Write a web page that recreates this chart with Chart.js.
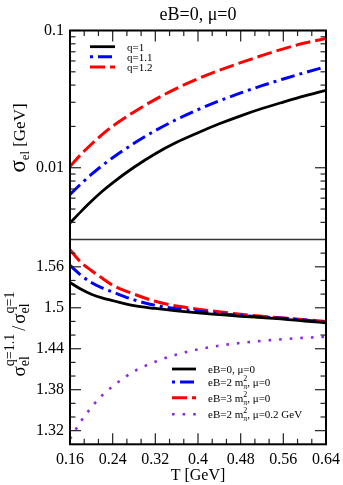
<!DOCTYPE html>
<html>
<head>
<meta charset="utf-8">
<script src="https://cdn.jsdelivr.net/npm/chart.js@4.4.1/dist/chart.umd.min.js"></script>
<style>
  html, body { margin: 0; padding: 0; background: #fff; }
  #wrap { position: relative; width: 343px; height: 485px; }
</style>
</head>
<body>
<div id="wrap"><canvas id="chart" width="343" height="485"></canvas></div>
<script>
const SERIF = "'Liberation Serif', 'DejaVu Serif', serif";

// temperature grid [GeV]
const T = [0.16, 0.18, 0.20, 0.22, 0.24, 0.28, 0.32, 0.36, 0.40, 0.44, 0.48, 0.52, 0.56, 0.60, 0.64];

// top panel: sigma_el [GeV]
const sigmaQ1  = [0.00395, 0.00477, 0.00569, 0.00671, 0.00777, 0.01008, 0.01266, 0.01532, 0.0180, 0.0209, 0.0239, 0.0270, 0.0301, 0.0334, 0.0367];
const sigmaQ11 = [0.00638, 0.0076, 0.00893, 0.01035, 0.01182, 0.01506, 0.01866, 0.02248, 0.02648, 0.0307, 0.03507, 0.03961, 0.04434, 0.04931, 0.0545];
const sigmaQ12 = [0.0102, 0.01245, 0.01483, 0.01741, 0.0201, 0.0255, 0.0315, 0.0379, 0.0445, 0.0513, 0.0583, 0.0657, 0.0735, 0.0810, 0.0876];

// bottom panel: sigma(q=1.1)/sigma(q=1)
const ratioEB0   = [1.537, 1.5275, 1.5198, 1.5145, 1.5105, 1.503, 1.499, 1.4955, 1.4925, 1.490, 1.4875, 1.4855, 1.4835, 1.4805, 1.478];
const ratioEB2   = [1.562, 1.548, 1.537, 1.529, 1.523, 1.5115, 1.5035, 1.4985, 1.495, 1.4915, 1.489, 1.4865, 1.4845, 1.482, 1.479];
const ratioEB3   = [1.585, 1.567, 1.5545, 1.5435, 1.533, 1.520, 1.5095, 1.5025, 1.498, 1.494, 1.4905, 1.4875, 1.485, 1.4825, 1.480];
const ratioEB2Mu = [1.308, 1.333, 1.354, 1.3715, 1.385, 1.4068, 1.421, 1.4315, 1.439, 1.4445, 1.4485, 1.4515, 1.454, 1.456, 1.4576];

// ticks
const xTicks = [0.16, 0.24, 0.32, 0.40, 0.48, 0.56, 0.64];
const yTopTicks = [0.01, 0.1];
const yBotTicks = [1.32, 1.38, 1.44, 1.50, 1.56];

const topLegend = ['q=1', 'q=1.1', 'q=1.2'];

const fmt = v => String(+Number(v).toFixed(3));

// minor tick positions
const xMinor = [];
for (let i = 0; i < xTicks.length - 1; i++) {
    const step = (xTicks[i + 1] - xTicks[i]) / 3;
    xMinor.push(xTicks[i] + step, xTicks[i] + 2 * step);
}
const yTopMinor = [];
for (const dec of [0.001, 0.01]) {
    for (let m = 2; m <= 9; m++) {
        const v = m * dec;
        if (v > 0.003 && v < 0.1) yTopMinor.push(v);
    }
}
const yBotMinor = [1.58];
for (let i = 0; i < yBotTicks.length - 1; i++) {
    const step = (yBotTicks[i + 1] - yBotTicks[i]) / 3;
    yBotMinor.push(yBotTicks[i] + step, yBotTicks[i] + 2 * step);
}

function series(label, ys, axis, color, width, dash, legendOffset) {
    return {
        label,
        data: T.map((t, i) => ({ x: t, y: ys[i] })),
        yAxisID: axis,
        borderColor: color,
        backgroundColor: color,
        borderWidth: width,
        borderDash: dash,
        borderCapStyle: 'butt',
        pointRadius: 0,
        fill: false,
        cubicInterpolationMode: 'monotone',
        legendOffset: legendOffset || 0,
    };
}

const datasets = [
    series('q=1', sigmaQ1, 'yTop', '#000000', 2.8, []),
    series('q=1.1', sigmaQ11, 'yTop', '#0000ff', 3, [14, 5, 3, 5], 19),
    series('q=1.2', sigmaQ12, 'yTop', '#ff0000', 3, [15, 5]),
    series('eB=0, μ=0', ratioEB0, 'yBot', '#000000', 2.8, []),
    series('eB=2', ratioEB2, 'yBot', '#0000ff', 3, [14, 5, 3, 5], 19),
    series('eB=3', ratioEB3, 'yBot', '#ff0000', 3, [15, 5]),
    series('eB=2 mu', ratioEB2Mu, 'yBot', '#8a2be2', 2.6, [2.6, 8]),
];

// rich text helpers (sub/superscripts)
function partWidth(ctx, p) {
    ctx.font = p.s + 'px ' + SERIF;
    return ctx.measureText(p.t).width;
}
function richWidth(ctx, parts) {
    let w = 0;
    for (const p of parts) {
        if (p.stack) w += Math.max(...p.stack.map(q => partWidth(ctx, q)));
        else w += partWidth(ctx, p);
        w += p.gap || 0;
    }
    return w;
}
function drawRich(ctx, parts, x, y) {
    let cx = x;
    const one = (q, px) => {
        ctx.font = q.s + 'px ' + SERIF;
        ctx.fillText(q.t, px, y + (q.dy || 0));
        return ctx.measureText(q.t).width;
    };
    for (const p of parts) {
        if (p.stack) cx += Math.max(...p.stack.map(q => one(q, cx)));
        else cx += one(p, cx);
        cx += p.gap || 0;
    }
}

const mPi = (pre, post) => [
    { t: pre, s: 11 },
    { stack: [{ t: 'π', s: 8, dy: 3 }, { t: '2', s: 8, dy: -5 }] },
    { t: post, s: 11 },
];
const botLegend = [
    [{ t: 'eB=0, μ=0', s: 11 }],
    mPi('eB=2 m', ', μ=0'),
    mPi('eB=3 m', ', μ=0'),
    mPi('eB=2 m', ', μ=0.2 GeV'),
];

const MAJ = 11, MIN = 5.5;

const decorPlugin = {
    id: 'decor',
    afterDatasetsDraw(chart) {
        const { ctx, chartArea: a, scales } = chart;
        const sx = scales.x, yt = scales.yTop, yb = scales.yBot;
        ctx.save();
        const line = (x1, y1, x2, y2) => {
            ctx.beginPath(); ctx.moveTo(x1, y1); ctx.lineTo(x2, y2); ctx.stroke();
        };

        // inward ticks
        ctx.strokeStyle = '#222';
        ctx.lineWidth = 1.2;
        ctx.setLineDash([]);
        const xt = (list, len) => list.forEach(v => {
            const px = sx.getPixelForValue(v);
            line(px, a.top, px, a.top + len);
            line(px, a.bottom, px, a.bottom - len);
        });
        xt(xTicks, MAJ); xt(xMinor, MIN);
        const ytk = (scale, list, len) => list.forEach(v => {
            const py = scale.getPixelForValue(v);
            line(a.left, py, a.left + len, py);
            line(a.right, py, a.right - len, py);
        });
        ytk(yt, yTopTicks, MAJ); ytk(yt, yTopMinor, MIN);
        ytk(yb, yBotTicks, MAJ); ytk(yb, yBotMinor, MIN);

        // panel separator
        ctx.strokeStyle = '#333';
        ctx.lineWidth = 1.3;
        line(a.left, yt.bottom, a.right, yt.bottom);

        // frame
        ctx.strokeStyle = '#000';
        ctx.lineWidth = 2;
        ctx.strokeRect(a.left, a.top, a.right - a.left, a.bottom - a.top);

        // title
        ctx.fillStyle = '#000';
        ctx.textAlign = 'left';
        ctx.textBaseline = 'alphabetic';
        ctx.font = '18px ' + SERIF;
        const title = 'eB=0, μ=0';
        ctx.fillText(title, (a.left + a.right) / 2 - ctx.measureText(title).width / 2, 19.5);

        // y-axis titles
        const yTitle = (parts, x, y) => {
            const w = richWidth(ctx, parts);
            ctx.save();
            ctx.translate(x, y);
            ctx.rotate(-Math.PI / 2);
            drawRich(ctx, parts, -w / 2, 0);
            ctx.restore();
        };
        yTitle([
            { t: 'σ', s: 23 },
            { t: 'el', s: 13, dy: 4, gap: 4 },
            { t: '[GeV]', s: 17 },
        ], 25, 138);
        yTitle([
            { t: 'σ', s: 19 },
            { stack: [{ t: 'el', s: 14, dy: 4 }, { t: 'q=1.1', s: 14, dy: -11 }], gap: 3 },
            { t: '/', s: 18, gap: 2 },
            { t: 'σ', s: 19 },
            { stack: [{ t: 'el', s: 14, dy: 4 }, { t: 'q=1', s: 14, dy: -11 }] },
        ], 25, 334);

        // legends
        const drawKey = (ds, x1, x2, y) => {
            ctx.strokeStyle = ds.borderColor;
            ctx.lineWidth = ds.borderWidth;
            ctx.setLineDash(ds.borderDash);
            ctx.lineDashOffset = ds.legendOffset;
            ctx.lineCap = 'butt';
            line(x1, y, x2, y);
            ctx.setLineDash([]);
            ctx.lineDashOffset = 0;
        };
        const topRows = [46.7, 56.7, 67];
        topRows.forEach((y, i) => {
            drawKey(chart.data.datasets[i], 90, 115, y);
            ctx.fillStyle = '#000';
            drawRich(ctx, [{ t: topLegend[i], s: 11 }], 127, y + 4);
        });
        const botRows = [369, 382, 397.7, 414.3];
        botRows.forEach((y, i) => {
            drawKey(chart.data.datasets[3 + i], 172, 196, y);
            ctx.fillStyle = '#000';
            drawRich(ctx, botLegend[i], 208, y + 4);
        });
        ctx.restore();
    },
};

const tickFont = { family: SERIF, size: 16 };
const noPad = s => { s.paddingTop = 0; s.paddingBottom = 0; s.paddingLeft = 0; s.paddingRight = 0; };

new Chart(document.getElementById('chart'), {
    type: 'line',
    data: { datasets },
    options: {
        responsive: false,
        devicePixelRatio: 1,
        animation: false,
        layout: { padding: { top: 30.5, right: 17, bottom: 0, left: 0 } },
        plugins: { legend: { display: false }, tooltip: { enabled: false }, title: { display: false } },
        scales: {
            x: {
                type: 'linear',
                position: 'bottom',
                min: 0.16,
                max: 0.64,
                afterBuildTicks: s => { s.ticks = xTicks.map(v => ({ value: v })); },
                afterFit: s => { s.height = 40.7; noPad(s); },
                ticks: { font: tickFont, color: '#000', padding: 6, maxRotation: 0, autoSkip: false, callback: fmt },
                grid: { display: false, drawTicks: false },
                border: { display: false },
                title: { display: true, text: 'T [GeV]', font: tickFont, color: '#000', padding: { top: 0, bottom: 0 } },
            },
            yBot: {
                type: 'linear',
                position: 'left',
                stack: 'panels',
                stackWeight: 204.8,
                min: 1.30,
                max: 1.60,
                afterBuildTicks: s => { s.ticks = yBotTicks.map(v => ({ value: v })); },
                afterFit: s => { s.width = 70; noPad(s); },
                ticks: { font: tickFont, color: '#000', padding: 6, callback: fmt },
                grid: { display: false, drawTicks: false },
                border: { display: false },
            },
            yTop: {
                type: 'logarithmic',
                position: 'left',
                stack: 'panels',
                stackWeight: 209,
                min: 0.003,
                max: 0.1,
                afterBuildTicks: s => { s.ticks = yTopTicks.map(v => ({ value: v })); },
                afterFit: s => { s.width = 70; noPad(s); },
                ticks: { font: tickFont, color: '#000', padding: 6, callback: fmt },
                grid: { display: false, drawTicks: false },
                border: { display: false },
            },
        },
    },
    plugins: [decorPlugin],
});
</script>
</body>
</html>
